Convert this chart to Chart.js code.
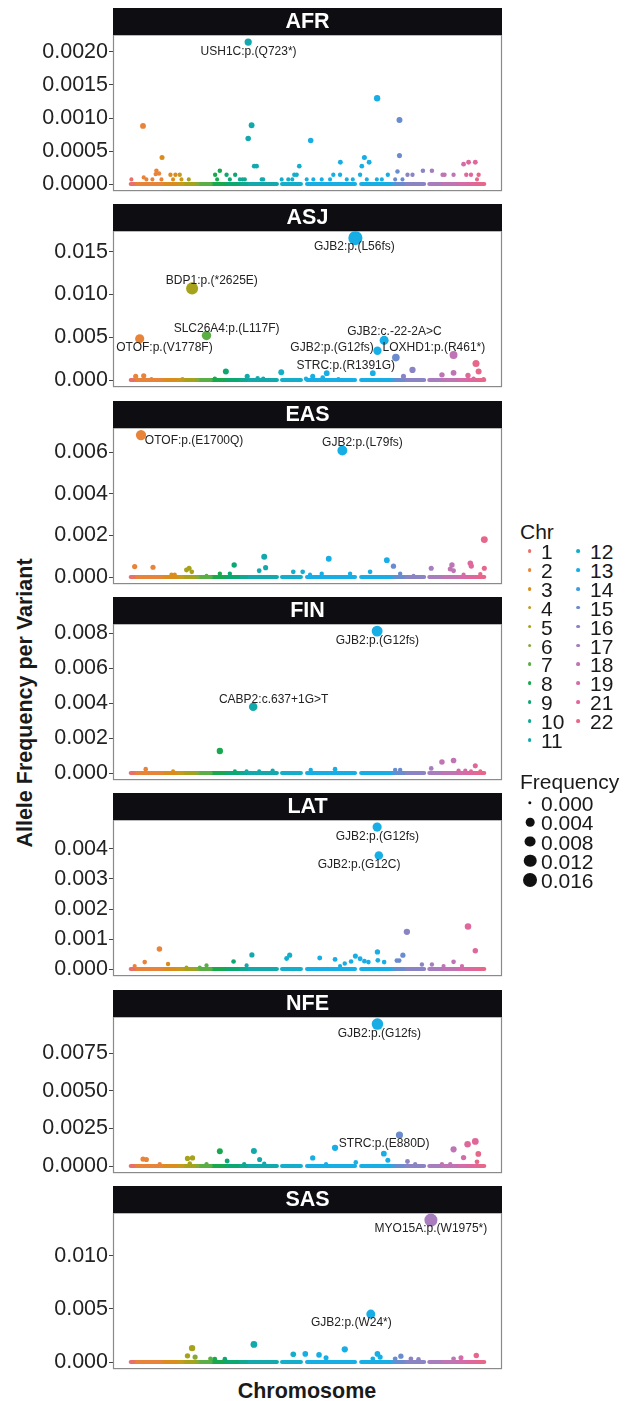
<!DOCTYPE html>
<html>
<head>
<meta charset="utf-8">
<script src="https://cdn.jsdelivr.net/npm/chart.js@4.4.1/dist/chart.umd.min.js"></script>
<style>
  body { margin: 0; background: #fff; }
  #page { position: relative; width: 633px; height: 1401px; overflow: hidden;
          font-family: 'Liberation Sans', Arial, sans-serif; color: #1a1a1a; }
  canvas.panel { position: absolute; left: 0; }
  .ytitle { position: absolute; left: 25px; top: 703px; transform: translate(-50%, -50%) rotate(-90deg);
            font-weight: bold; font-size: 21.5px; white-space: nowrap; }
  .xtitle { position: absolute; left: 307px; top: 1391px; transform: translate(-50%, -50%);
            font-weight: bold; font-size: 21.5px; white-space: nowrap; }
  .lg { position: absolute; white-space: nowrap; font-size: 21px; line-height: 1; transform: translateY(-50%); }
  .dot { position: absolute; border-radius: 50%; transform: translate(-50%, -50%); }
</style>
</head>
<body>
<div id="page">
  <div class="ytitle">Allele Frequency per Variant</div>
  <div class="xtitle">Chromosome</div>
</div>
<script>
// populations (facets)
const panelNames = ['AFR', 'ASJ', 'EAS', 'FIN', 'LAT', 'NFE', 'SAS'];

// chromosome runs along the variant axis (variant rank)
const chrNames = ['1','2','3','4','5','6','7','8','9','10','11','12','13','14','15','16','17','18','19','21','22'];
const segChr   = ['1','2','3','4','5','6','7','8','9','10','11','12','13','13','14','15','16','17','18','19','21','22'];
const segStart = [0, 3, 31, 45, 52, 63, 67, 80, 93, 107, 115, 151, 176, 230, 258, 262, 272, 298, 309, 324, 334, 344];
const segEnd   = [3, 31, 45, 52, 63, 67, 80, 93, 107, 115, 146, 170, 224, 258, 262, 272, 293, 309, 324, 334, 344, 353];

// [variant rank, allele frequency]
const afrPoints = [[117.3,0.00215],[12.3,0.00088],[31.3,0.0004],[25.7,0.0002],[28.3,0.00016],[25,0.00015],[13,0.0001],
  [15.7,0.00007],[0.7,0.00007],[21.7,0.00007],[30.7,0.00007],[39.7,0.00014],[44.7,0.00014],[49,0.00014],[50.7,0.00007],
  [42.3,0.00007],[58,0.00007],[89,0.0002],[84.3,0.00014],[95.7,0.00014],[104.3,0.00014],[86.3,0.00007],[99,0.00007],
  [109,0.00007],[114,0.00007],[111.7,0.00007],[117.3,0.00069],[120.7,0.00089],[123.3,0.00027],[125.7,0.00027],
  [130.7,0.00007],[132.3,0.00007],[168.3,0.00027],[163.3,0.00014],[165.7,0.00014],[150.7,0.00007],[157.3,0.00007],
  [161.3,0.00007],[179.7,0.00066],[175.7,0.00007],[182.3,0.00007],[190.7,0.00007],[199,0.00007],[202.3,0.00014],
  [209,0.00014],[209.3,0.00033],[215.7,0.00007],[221.7,0.00007],[229,0.00014],[230.7,0.00027],[233.3,0.0004],
  [238,0.00033],[246,0.0013],[235.7,0.00007],[245.7,0.00007],[250.7,0.00007],[256.7,0.00014],[266.3,0.00019],
  [268.3,0.00097],[268.3,0.00043],[264,0.00007],[271.3,0.00007],[276.3,0.00014],[281.3,0.00014],[291.7,0.0002],
  [300.7,0.0002],[311.3,0.00014],[313.3,0.00014],[322.3,0.00014],[332.3,0.0003],[337.3,0.00033],[344,0.00033],
  [335,0.00014],[339.7,0.00014],[347.3,0.00014],[345.7,0.00007]];
const asjPoints = [[224.3,0.01659],[61.3,0.01071],[9,0.00482],[75.7,0.0052],[253,0.00463],[246.3,0.00342],
  [322.3,0.00292],[264.7,0.00262],[344.7,0.00194],[281.3,0.00118],[347.3,0.00099],[95,0.00099],[150.3,0.00091],
  [241.7,0.0008],[195.7,0.0008],[322.3,0.00084],[310.7,0.0006],[336.7,0.00053],[5,0.00042],[13,0.00049],
  [116.3,0.00042],[181.7,0.00042],[272.3,0.00042],[126.7,0.00019],[132.3,0.00015],[84,0.00015],[51.7,0.0001],
  [342.3,0.00015],[352.3,0.0001],[20.7,0.0001],[175,0.00015],[191.7,0.00027],[207.3,0.0001]];
const easPoints = [[10.3,0.00683],[211.3,0.00609],[353,0.0018],[133.3,0.00097],[197.7,0.00088],[255.7,0.00081],
  [103.3,0.00058],[262.3,0.00052],[339,0.00066],[340,0.00053],[320.7,0.00058],[319,0.00039],[4,0.0005],
  [22.3,0.00047],[134.7,0.00045],[353,0.00042],[300,0.00042],[58.3,0.00042],[55.7,0.00034],[61,0.00025],
  [128.3,0.0003],[162.3,0.00025],[171.7,0.00025],[239,0.00025],[322.3,0.0003],[219,0.00016],[190.7,0.00016],
  [179,0.00011],[89,0.00016],[99,0.00016],[75.7,0.00006],[40.7,0.00011],[44,0.00011],[269,0.00016],
  [282.3,0.00006],[332.3,0.00011],[349,0.00014]];
const finPoints = [[246,0.00813],[122.3,0.0038],[89,0.00126],[322.3,0.00072],[310.7,0.00063],[344,0.00041],
  [300,0.00026],[15,0.00022],[204,0.00022],[179.7,0.00017],[42.3,0.00009],[104,0.00009],[115.7,0.00009],
  [128.3,0.00009],[141.7,0.00013],[264,0.00017],[269,0.00017],[334,0.00013],[349,0.00009],[327.3,0.00013],
  [339.7,0.00009]];
const latPoints = [[246,0.00473],[247.7,0.00378],[336.7,0.00142],[275.7,0.00124],[28.7,0.00067],[344,0.00061],
  [121,0.00047],[158.7,0.00046],[155.7,0.00035],[246.3,0.00057],[271.7,0.00046],[224.3,0.00043],[188.7,0.00037],
  [204,0.00032],[229,0.00034],[233.3,0.00026],[237.3,0.00023],[265.7,0.00028],[268,0.00028],[102.7,0.00025],
  [14,0.00023],[322.3,0.00024],[246.7,0.00029],[253,0.00023],[220,0.00025],[213.7,0.00018],[209,0.0001],
  [37.3,0.00017],[4,0.0001],[75.7,0.00012],[115.7,0.00012],[290.7,0.00015],[300.7,0.00015],[312.3,0.0001],
  [330.7,0.0001],[69,0.00005],[55.7,0.00005]];
const nfePoints = [[246.3,0.00943],[268.3,0.00206],[204,0.00121],[344,0.00163],[336.3,0.00145],[322.3,0.00111],
  [89,0.00098],[123,0.001],[347,0.0008],[252.7,0.00082],[332.3,0.00056],[181.7,0.00054],[56.7,0.0005],
  [61.7,0.00054],[256.7,0.00039],[12.3,0.00046],[15.7,0.00043],[128.7,0.00043],[96.3,0.00033],[276.3,0.0003],
  [345.7,0.00028],[224.7,0.00024],[59,0.00017],[75.7,0.00013],[113.3,0.00013],[133.3,0.00015],[195,0.00013],
  [29,0.00013],[284,0.00013],[310.7,0.00013],[319,0.00013]];
const sasPoints = [[299.7,0.01335],[239.7,0.00451],[123,0.00165],[61.3,0.00131],[213.7,0.00119],[162.3,0.00073],
  [174.3,0.00076],[188,0.00067],[246.3,0.00076],[56.7,0.00058],[64.3,0.00046],[345,0.00061],[269.7,0.00055],
  [195,0.0004],[329.7,0.0004],[322.3,0.0003],[79.7,0.0003],[84,0.00027],[94,0.00027],[264,0.0003],
  [279.7,0.0003],[287.3,0.00024],[241.7,0.0003],[249,0.00046]];

// variant labels: [text, variant rank, frequency]
const afrLabels = [['USH1C:p.(Q723*)', 117.7, 0.0020]];
const asjLabels = [['GJB2:p.(L56fs)', 223.3, 0.01553], ['BDP1:p.(*2625E)', 81, 0.01158],
  ['SLC26A4:p.(L117F)', 95.7, 0.00604], ['OTOF:p.(V1778F)', 33.7, 0.0038], ['GJB2:c.-22-2A>C', 263.3, 0.00566],
  ['GJB2:p.(G12fs)', 201, 0.00383], ['LOXHD1:p.(R461*)', 302.7, 0.00383], ['STRC:p.(R1391G)', 214.7, 0.00171]];
const easLabels = [['OTOF:p.(E1700Q)', 63.3, 0.00656], ['GJB2:p.(L79fs)', 231.3, 0.00647]];
const finLabels = [['GJB2:p.(G12fs)', 246.3, 0.00759], ['CABP2:c.637+1G>T', 142.7, 0.0042]];
const latLabels = [['GJB2:p.(G12fs)', 246.3, 0.00442], ['GJB2:p.(G12C)', 228, 0.00349]];
const nfeLabels = [['GJB2:p.(G12fs)', 248.3, 0.00882], ['STRC:p.(E880D)', 253, 0.00145]];
const sasLabels = [['MYO15A:p.(W1975*)', 299.7, 0.0125], ['GJB2:p.(W24*)', 220.3, 0.00372]];

// y tick values per facet
const afrTicks = [0, 0.0005, 0.001, 0.0015, 0.002];
const asjTicks = [0, 0.005, 0.01, 0.015];
const easTicks = [0, 0.002, 0.004, 0.006];
const finTicks = [0, 0.002, 0.004, 0.006, 0.008];
const latTicks = [0, 0.001, 0.002, 0.003, 0.004];
const nfeTicks = [0, 0.0025, 0.005, 0.0075];
const sasTicks = [0, 0.005, 0.01];

// size legend breaks
const sizeBreaks = [0, 0.004, 0.008, 0.012, 0.016];

const chrColors = {
  '1': '#E9706A', '2': '#E8843A', '3': '#DA8D1C', '4': '#C79A1D', '5': '#A7A21B', '6': '#87AA36',
  '7': '#5BAE45', '8': '#18A84E', '9': '#0BA871', '10': '#0FA891', '11': '#13A9AC', '12': '#14AECB',
  '13': '#17AEE6', '14': '#3E9FE0', '15': '#6A8CCF', '16': '#8A84C5', '17': '#A77DBD', '18': '#BF74B4',
  '19': '#D36CA8', '21': '#E0679B', '22': '#E7678A'
};
const FONT = "'Liberation Sans', Arial, sans-serif";

const facets = [
  [afrPoints, afrTicks, afrLabels], [asjPoints, asjTicks, asjLabels], [easPoints, easTicks, easLabels],
  [finPoints, finTicks, finLabels], [latPoints, latTicks, latLabels], [nfePoints, nfeTicks, nfeLabels],
  [sasPoints, sasTicks, sasLabels]
];

const maxFreq = Math.max(...facets.flatMap(f => f[0].map(p => p[1])));
const sizeOf = f => 0.6 + 1.08 * (1 + 5 * Math.sqrt(Math.max(f, 0) / maxFreq));

function chrOf(x) {
  let best = 0, bestD = Infinity;
  segStart.forEach((s, k) => {
    const d = x < s ? s - x : (x > segEnd[k] ? x - segEnd[k] : 0);
    if (d < bestD) { bestD = d; best = k; }
  });
  return segChr[best];
}

const xLo = Math.min(...segStart), xHi = Math.max(...segEnd);
const xPad = 0.05 * (xHi - xLo);

const page = document.getElementById('page');
const STRIP = 27, PLOT = 160, BOTTOM = 10, LEFT = 113, RIGHT = 502;

function facetPlugin(name, labels) {
  return {
    id: 'facet',
    afterDraw(chart) {
      const { ctx, chartArea: a, scales: { x, y } } = chart;
      ctx.save();
      ctx.font = `12px ${FONT}`;
      ctx.fillStyle = '#222';
      ctx.textAlign = 'center';
      ctx.textBaseline = 'middle';
      labels.forEach(([t, lx, ly]) => ctx.fillText(t, x.getPixelForValue(lx), y.getPixelForValue(ly)));
      // panel border
      ctx.strokeStyle = '#8a8a8a';
      ctx.lineWidth = 1.2;
      ctx.strokeRect(a.left + 0.5, a.top, a.right - a.left - 1, a.bottom - a.top - 0.5);
      // strip
      ctx.fillStyle = '#0e0e12';
      ctx.fillRect(a.left, a.top - STRIP, a.right - a.left, STRIP);
      ctx.fillStyle = '#fff';
      ctx.font = `bold 21.5px ${FONT}`;
      ctx.fillText(name, (a.left + a.right) / 2, a.top - STRIP / 2 + 1);
      ctx.restore();
    }
  };
}

facets.forEach(([points, ticks, labels], i) => {
  const canvas = document.createElement('canvas');
  canvas.className = 'panel';
  canvas.width = 520;
  canvas.height = STRIP + PLOT + BOTTOM;
  canvas.style.top = (8 + i * 196.3).toFixed(1) + 'px';
  page.appendChild(canvas);

  const yMaxData = Math.max(...points.map(p => p[1]));
  const yPad = 0.05 * yMaxData;
  const dec = Math.max(...ticks.map(v => (String(v).split('.')[1] || '').length));

  const datasets = segChr.map((c, k) => ({
    data: [{ x: segStart[k], y: 0 }, { x: segEnd[k], y: 0 }],
    showLine: true, borderColor: chrColors[c], borderWidth: 4, borderCapStyle: 'round',
    pointRadius: 0, order: 2
  }));
  datasets.push({
    data: points.map(p => ({ x: p[0], y: p[1] })),
    pointRadius: ctx => sizeOf(ctx.raw.y),
    pointBackgroundColor: ctx => chrColors[chrOf(ctx.raw.x)],
    pointBorderWidth: 0, order: 1, clip: false
  });

  new Chart(canvas, {
    type: 'scatter',
    data: { datasets },
    options: {
      responsive: false, animation: false, events: [],
      layout: { padding: { top: STRIP, right: 0, bottom: BOTTOM, left: 0 } },
      plugins: { legend: { display: false }, tooltip: { enabled: false } },
      scales: {
        x: { type: 'linear', display: false, min: xLo - xPad, max: xHi + xPad },
        y: {
          type: 'linear', min: -yPad, max: yMaxData + yPad,
          afterFit: s => { s.width = LEFT; },
          afterBuildTicks: s => { s.ticks = ticks.map(v => ({ value: v })); },
          ticks: { callback: v => Number(v).toFixed(dec), font: { family: FONT, size: 21.5 }, color: '#222', padding: 1 },
          grid: { drawOnChartArea: false, drawTicks: true, tickLength: 4, color: '#444', lineWidth: 1 },
          border: { display: false }
        }
      }
    },
    plugins: [{
      id: 'fixArea',
      afterLayout(chart) {
        // pin the panel to the reference box
        const a = chart.chartArea;
        a.left = LEFT; a.right = RIGHT; a.width = RIGHT - LEFT;
        const xs = chart.scales.x;
        xs.left = LEFT; xs.right = RIGHT; xs.width = RIGHT - LEFT;
        xs.configure();
      }
    }, facetPlugin(panelNames[i], labels)]
  });
});

// legends
function addText(txt, x, y, cls = 'lg') {
  const el = document.createElement('div');
  el.className = cls;
  el.textContent = txt;
  el.style.left = x + 'px';
  el.style.top = y + 'px';
  page.appendChild(el);
}
function addDot(x, y, r, color) {
  const el = document.createElement('div');
  el.className = 'dot';
  el.style.left = x + 'px';
  el.style.top = y + 'px';
  el.style.width = el.style.height = (2 * r) + 'px';
  el.style.background = color;
  page.appendChild(el);
}
addText('Chr', 520, 531);
chrNames.forEach((c, k) => {
  const col = k < 11 ? 0 : 1;
  const row = col ? k - 11 : k;
  const y = 551 + row * 18.9;
  addDot(col ? 578 : 529.5, y, 1.9, chrColors[c]);
  addText(c, col ? 590 : 541, y);
});
addText('Frequency', 520, 781);
sizeBreaks.forEach((b, k) => {
  const y = 803 + k * 19.25;
  addDot(530, y, sizeOf(b), '#111');
  addText(b.toFixed(3), 541, y);
});
</script>
</body>
</html>
